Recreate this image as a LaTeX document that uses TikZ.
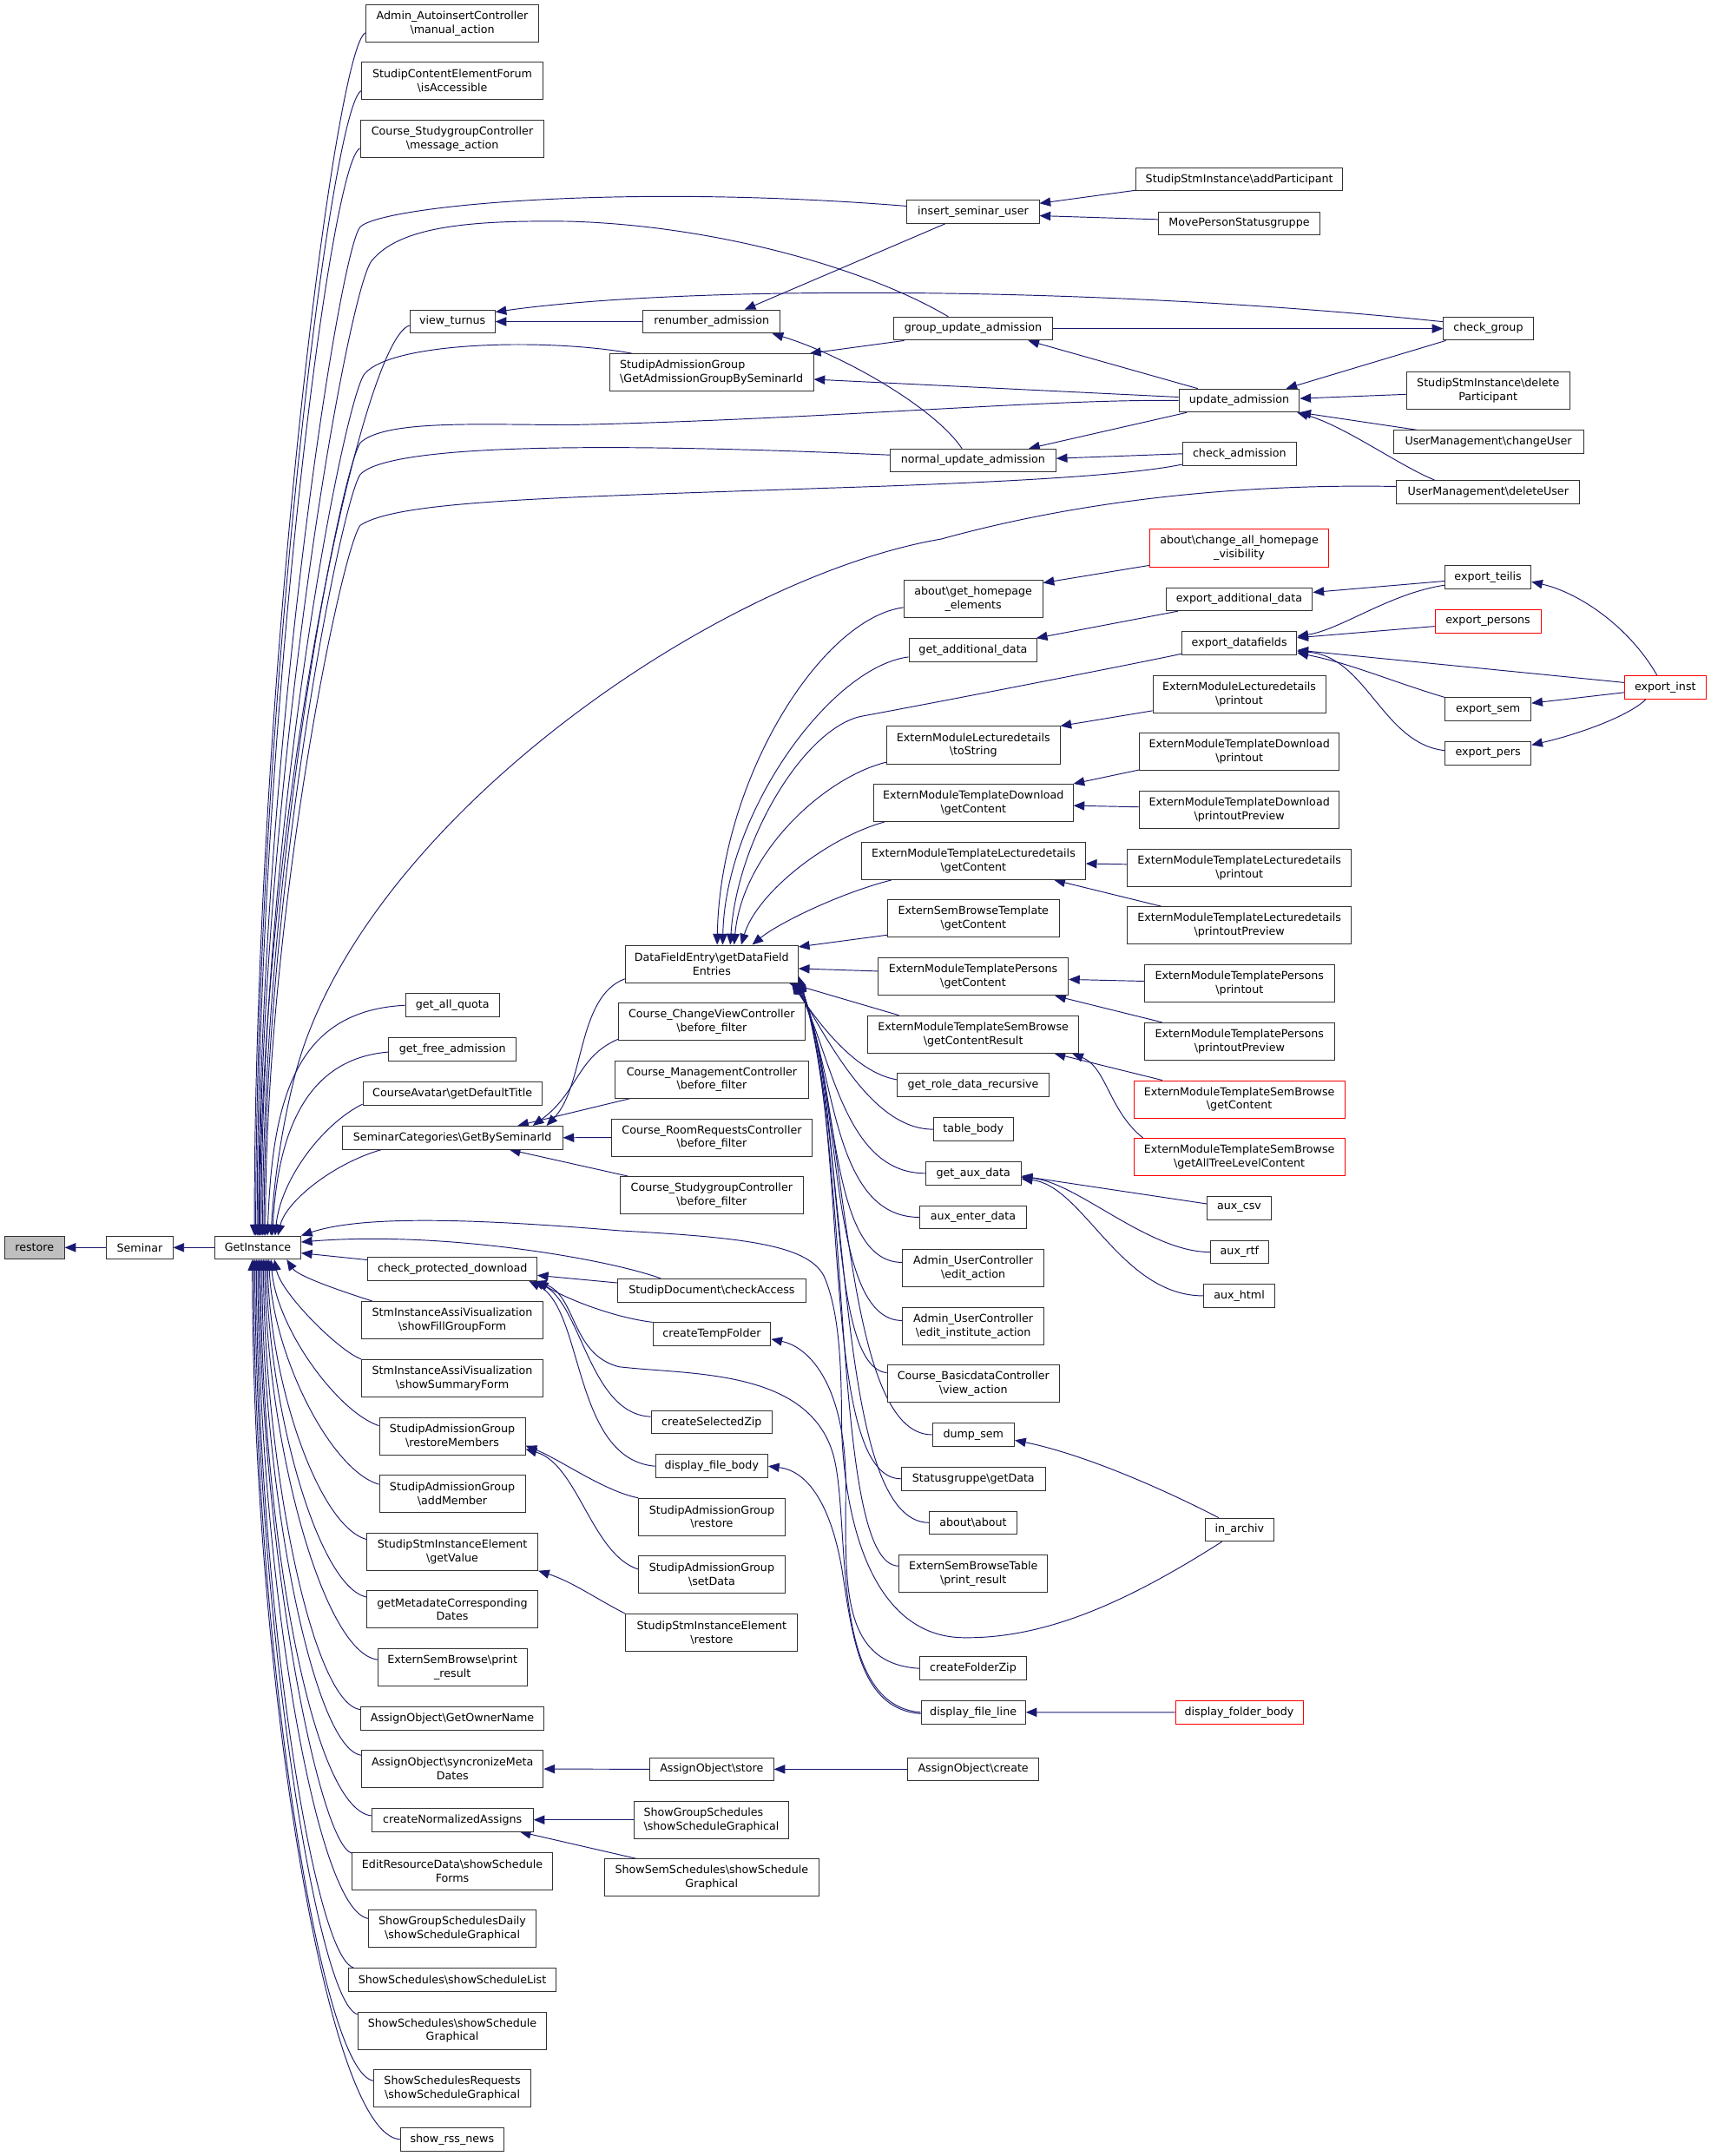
\documentclass[tikz,border=0pt]{standalone}
\usepackage{fontspec}
\setmainfont{DejaVu Sans}
\usetikzlibrary{arrows.meta}
\pgfdeclarelayer{bg}
\pgfsetlayers{bg,main}
\definecolor{eblue}{HTML}{191970}
\definecolor{rootgray}{HTML}{BFBFBF}
\newcommand{\BS}{\textbackslash}
\begin{document}
\begin{tikzpicture}[x=1pt,y=-1pt,
  nb/.style={draw=black!80, line width=0.6pt, fill=white, inner sep=0pt, align=center, font=\fontsize{8}{10}\selectfont, minimum height=16.8pt},
  nb2/.style={nb, minimum height=27.2pt},
  wd/.style={minimum width=#1pt},
  e/.style={draw=eblue, line width=0.6pt, {Triangle[length=8pt,width=6.5pt]}-}]
\useasboundingbox (0,0) rectangle (1244,1568);

% columns 1-3
\node[nb,wd=43.4,fill=rootgray] (restore) at (25.1,907.3) {restore};
\node[nb,wd=48.1] (seminar) at (101.6,907.3) {Seminar};
\node[nb,wd=62.4] (gi) at (187.5,907.3) {GetInstance};

% column 4
\node[nb2,wd=125.6] (adminai) at (328.9,16.9) {Admin\_AutoinsertController\\\BS manual\_action};
\node[nb2,wd=131.4] (forum) at (328.9,58.9) {StudipContentElementForum\\\BS isAccessible};
\node[nb2,wd=133.6] (sgmsg) at (328.9,100.9) {Course\_StudygroupController\\\BS message\_action};
\node[nb,wd=61.8] (vturnus) at (329,233.9) {view\_turnus};
\node[nb,wd=68.2] (quota) at (329,731.1) {get\_all\_quota};
\node[nb,wd=92.6] (freeadm) at (329,763.1) {get\_free\_admission};
\node[nb,wd=130.2] (avatar) at (329,795.3) {CourseAvatar\BS getDefaultTitle};
\node[nb,wd=160.2] (semcat) at (329,827.4) {SeminarCategories\BS GetBySeminarId};
\node[nb,wd=122.8] (cpd) at (329,923) {check\_protected\_download};
\node[nb2,wd=132] (sfg) at (328.9,960.1) {StmInstanceAssiVisualization\\\BS showFillGroupForm};
\node[nb2,wd=132] (ssf) at (328.9,1002.3) {StmInstanceAssiVisualization\\\BS showSummaryForm};
\node[nb2,wd=106.1] (rmem) at (328.9,1044.4) {StudipAdmissionGroup\\\BS restoreMembers};
\node[nb2,wd=106.1] (addm) at (328.9,1086.5) {StudipAdmissionGroup\\\BS addMember};
\node[nb2,wd=124.5] (gval) at (328.9,1128.5) {StudipStmInstanceElement\\\BS getValue};
\node[nb2,wd=124.5] (gmeta) at (328.9,1170.5) {getMetadateCorresponding\\Dates};
\node[nb2,wd=108.4] (esbpr) at (329,1212.5) {ExternSemBrowse\BS print\\\_result};
\node[nb,wd=133.5] (gowner) at (328.9,1249.7) {AssignObject\BS GetOwnerName};
\node[nb2,wd=132.2] (sync) at (329,1286.5) {AssignObject\BS syncronizeMeta\\Dates};
\node[nb,wd=117.4] (cna) at (329,1323.5) {createNormalizedAssigns};
\node[nb2,wd=145.7] (ersf) at (328.9,1360.7) {EditResourceData\BS showSchedule\\Forms};
\node[nb2,wd=121.4] (sgsd) at (328.9,1402.8) {ShowGroupSchedulesDaily\\\BS showScheduleGraphical};
\node[nb,wd=151] (sslist) at (328.9,1439.7) {ShowSchedules\BS showScheduleList};
\node[nb2,wd=137.3] (ssgraph) at (328.9,1476.8) {ShowSchedules\BS showSchedule\\Graphical};
\node[nb2,wd=114] (ssreq) at (328.9,1518.8) {ShowSchedulesRequests\\\BS showScheduleGraphical};
\node[nb,wd=75.1] (rss) at (328.8,1555.9) {show\_rss\_news};

% column 5
\node[nb,wd=99.7] (renum) at (517.4,233.9) {renumber\_admission};
\node[nb2,wd=148.3,align=left] (gagbs) at (517.4,270.9) {StudipAdmissionGroup\\\BS GetAdmissionGroupBySeminarId};
\node[nb2,wd=125.7] (dfe) at (517.5,701) {DataFieldEntry\BS getDataField\\Entries};
\node[nb2,wd=135.7] (cvc) at (517.5,742.9) {Course\_ChangeViewController\\\BS before\_filter};
\node[nb2,wd=140.2] (cmc) at (517.6,785.1) {Course\_ManagementController\\\BS before\_filter};
\node[nb2,wd=145.5] (crr) at (517.6,827.3) {Course\_RoomRequestsController\\\BS before\_filter};
\node[nb2,wd=133.1] (csg) at (517.5,869.3) {Course\_StudygroupController\\\BS before\_filter};
\node[nb,wd=136.5] (sdca) at (517.6,938.5) {StudipDocument\BS checkAccess};
\node[nb,wd=85.7] (ctf) at (517.6,970.3) {createTempFolder};
\node[nb,wd=88.1] (csz) at (517.5,1034.3) {createSelectedZip};
\node[nb,wd=81.7] (dfb) at (517.5,1066.3) {display\_file\_body};
\node[nb2,wd=106.3] (sagr) at (517.6,1103.3) {StudipAdmissionGroup\\\BS restore};
\node[nb2,wd=106.3] (sagsd) at (517.6,1145.3) {StudipAdmissionGroup\\\BS setData};
\node[nb2,wd=125.1] (sier) at (517.5,1187.4) {StudipStmInstanceElement\\\BS restore};
\node[nb,wd=90.1] (aostore) at (517.5,1286.7) {AssignObject\BS store};
\node[nb2,wd=112.2,align=left] (sgs) at (517.3,1323.5) {ShowGroupSchedules\\\BS showScheduleGraphical};
\node[nb2,wd=155.7] (sss) at (517.5,1365.5) {ShowSemSchedules\BS showSchedule\\Graphical};

% column 6
\node[nb,wd=96] (isu) at (707.6,153.9) {insert\_seminar\_user};
\node[nb,wd=115.6] (gua) at (707.6,239) {group\_update\_admission};
\node[nb,wd=120.6] (nua) at (707.5,334.9) {normal\_update\_admission};
\node[nb2,wd=101] (ghe) at (707.7,435.8) {about\BS get\_homepage\\\_elements};
\node[nb,wd=93.4] (gad) at (707.6,472.8) {get\_additional\_data};
\node[nb2,wd=125.9] (emlts) at (707.8,541.9) {ExternModuleLecturedetails\\\BS toString};
\node[nb2,wd=144.9] (emtdgc) at (707.8,583.9) {ExternModuleTemplateDownload\\\BS getContent};
\node[nb2,wd=162.7] (emtlgc) at (707.9,626.1) {ExternModuleTemplateLecturedetails\\\BS getContent};
\node[nb2,wd=124.9] (esbtgc) at (707.8,668.1) {ExternSemBrowseTemplate\\\BS getContent};
\node[nb2,wd=138.4] (emtpgc) at (707.6,710.3) {ExternModuleTemplatePersons\\\BS getContent};
\node[nb2,wd=153.4] (emtsbr) at (707.7,752.3) {ExternModuleTemplateSemBrowse\\\BS getContentResult};
\node[nb,wd=110.2] (grdr) at (707.6,789.2) {get\_role\_data\_recursive};
\node[nb,wd=58.1] (tbody) at (707.8,821.3) {table\_body};
\node[nb,wd=69.3] (gaux) at (707.8,853.3) {get\_aux\_data};
\node[nb,wd=77.4] (auxe) at (707.6,885.3) {aux\_enter\_data};
\node[nb2,wd=102.6] (auea) at (707.7,922.1) {Admin\_UserController\\\BS edit\_action};
\node[nb2,wd=102.6] (aueia) at (707.7,964.4) {Admin\_UserController\\\BS edit\_institute\_action};
\node[nb2,wd=125.3] (cbdc) at (707.8,1006.4) {Course\_BasicdataController\\\BS view\_action};
\node[nb,wd=59.7] (dsem) at (707.8,1043.4) {dump\_sem};
\node[nb,wd=104.7] (sggd) at (707.8,1075.5) {Statusgruppe\BS getData};
\node[nb,wd=63.2] (aabout) at (707.6,1107.4) {about\BS about};
\node[nb2,wd=107.9] (esbtpr) at (707.8,1144.5) {ExternSemBrowseTable\\\BS print\_result};
\node[nb,wd=77.4] (cfz) at (707.6,1213.4) {createFolderZip};
\node[nb,wd=75.9] (dfl) at (707.7,1245.3) {display\_file\_line};
\node[nb,wd=95.2] (aocreate) at (707.7,1286.7) {AssignObject\BS create};

% column 7
\node[nb,wd=150.3] (addp) at (901.2,130.4) {StudipStmInstance\BS addParticipant};
\node[nb,wd=117.6] (mpsg) at (901.1,162.6) {MovePersonStatusgruppe};
\node[nb,wd=87.6] (upd) at (901.1,291.3) {update\_admission};
\node[nb,wd=82.5] (chkadm) at (901.3,330) {check\_admission};
\node[nb2,wd=130.4,draw=red] (cahv) at (901.1,398.6) {about\BS change\_all\_homepage\\\_visibility};
\node[nb,wd=106.6] (ead) at (901.1,435.8) {export\_additional\_data};
\node[nb,wd=83.6] (edf) at (901.2,467.8) {export\_datafields};
\node[nb2,wd=125.6] (emlpr) at (901.1,504.9) {ExternModuleLecturedetails\\\BS printout};
\node[nb2,wd=145.1] (emtdpr) at (901.2,546.9) {ExternModuleTemplateDownload\\\BS printout};
\node[nb2,wd=145.1] (emtdpp) at (901.2,588.9) {ExternModuleTemplateDownload\\\BS printoutPreview};
\node[nb2,wd=162.5] (emtlpr) at (901.2,631.1) {ExternModuleTemplateLecturedetails\\\BS printout};
\node[nb2,wd=162.5] (emtlpp) at (901.2,673.1) {ExternModuleTemplateLecturedetails\\\BS printoutPreview};
\node[nb2,wd=138] (emtppr) at (901.3,715.1) {ExternModuleTemplatePersons\\\BS printout};
\node[nb2,wd=138] (emtppp) at (901.3,757.4) {ExternModuleTemplatePersons\\\BS printoutPreview};
\node[nb2,wd=153.5,draw=red] (emtsbgc) at (901.2,799.5) {ExternModuleTemplateSemBrowse\\\BS getContent};
\node[nb2,wd=153.5,draw=red] (emtsbat) at (901.2,841.5) {ExternModuleTemplateSemBrowse\\\BS getAllTreeLevelContent};
\node[nb,wd=46.8] (auxcsv) at (901.1,878.5) {aux\_csv};
\node[nb,wd=42.3] (auxrtf) at (901.3,910.6) {aux\_rtf};
\node[nb,wd=51.6] (auxhtml) at (901.1,942.4) {aux\_html};
\node[nb,wd=49.7] (inarch) at (901.3,1112.5) {in\_archiv};
\node[nb,wd=92.8,draw=red] (dfoldb) at (901.1,1245.4) {display\_folder\_body};

% column 8-9
\node[nb,wd=65.1] (chkgrp) at (1082.2,239) {check\_group};
\node[nb2,wd=119] (delp) at (1082.1,284.3) {StudipStmInstance\BS delete\\Participant};
\node[nb,wd=138.3] (chgu) at (1082.3,321.3) {UserManagement\BS changeUser};
\node[nb,wd=133.3] (delu) at (1082.1,357.8) {UserManagement\BS deleteUser};
\node[nb,wd=62.7] (teilis) at (1082,419.9) {export\_teilis};
\node[nb,wd=77,draw=red] (epersons) at (1082,451.8) {export\_persons};
\node[nb,wd=62.7] (esem) at (1082,515.8) {export\_sem};
\node[nb,wd=62.7] (epers) at (1082,547.8) {export\_pers};
\node[nb,wd=59.2,draw=red] (einst) at (1210.9,499.8) {export\_inst};

\begin{pgfonlayer}{bg}
\fill[white] (0,0) rectangle (1244,1568);
% chain
\draw[e] (restore.east) -- (seminar.west);
\draw[e] (seminar.east) -- (gi.west);

% upper fan into GetInstance
\draw[e] ([xshift=-2.5pt]gi.north) .. controls +(0,-397) and +(-22,8) .. ([yshift=-7pt]adminai.west);
\draw[e] ([xshift=-1.5pt]gi.north) .. controls +(0,-375) and +(-22,8) .. ([yshift=-7pt]forum.west);
\draw[e] ([xshift=-0.5pt]gi.north) .. controls +(0,-356) and +(-22,8) .. ([yshift=-7pt]sgmsg.west);
\draw[e] ([xshift=1.5pt]gi.north) .. controls +(0,-298) and +(-35,10) .. ([yshift=-2.8pt]vturnus.west);
\draw[e] ([xshift=0.5pt]gi.north) .. controls +(0,-340) and (247,180) .. (262,165) .. controls (277,150) and (450,133) .. ([yshift=4pt]isu.west);
\draw[e] ([xshift=1pt]gi.north) .. controls +(0,-320) and (252,215) .. (270,190) .. controls (290,165) and (340,160) .. (414,161) .. controls (520,164) and (630,195) .. ([xshift=-18pt]gua.north);
\draw[e] ([xshift=2.5pt]gi.north) .. controls +(0,-300) and (250,292) .. (265,272) .. controls (285,248) and (400,246) .. ([xshift=16.4pt]gagbs.north west);
\draw[e] ([xshift=3.5pt]gi.north) .. controls +(0,-260) and (247,345) .. (262,322) .. controls (280,305) and (350,309) .. (415,309) .. controls (600,305) and (760,290) .. (upd.west);
\draw[e] ([xshift=4.5pt]gi.north) .. controls +(0,-250) and (248,365) .. (262,345) .. controls (280,326) and (400,320) .. ([yshift=4pt]nua.west);
\draw[e] ([xshift=5.5pt]gi.north) .. controls +(0,-230) and (248,400) .. (262,382) .. controls (290,364) and (400,362) .. (600,355) .. controls (760,350) and (830,344) .. ([yshift=1pt]chkadm.south west);
\draw[e] ([xshift=9.5pt]gi.north) .. controls (199,860) and (205,820) .. (214,784) .. controls (260,600) and (520,420) .. (684.5,392) .. controls (800,360) and (920,352) .. ([yshift=4pt]delu.west);
\draw[e] ([xshift=7pt]gi.north) .. controls +(3.5,-99) and +(-80,4) .. (quota.west);
\draw[e] ([xshift=10.5pt]gi.north) .. controls +(4,-75) and +(-60,5) .. ([yshift=-2pt]freeadm.west);
\draw[e] ([xshift=12.5pt]gi.north) .. controls +(4,-40) and +(-30,15) .. ([yshift=1pt]avatar.south west);
\draw[e] ([xshift=14.5pt]gi.north) .. controls +(6,-25) and +(-35,10) .. ([xshift=28.8pt]semcat.south west);

% lower fan into GetInstance
\draw[e] ([xshift=21pt]gi.south) .. controls +(8,12) and +(-25,-8) .. ([xshift=8pt]sfg.north west);
\draw[e] ([xshift=12pt]gi.south) .. controls +(5,25) and +(-15,-5) .. (ssf.north west);
\draw[e] ([xshift=9.5pt]gi.south) .. controls +(4,50) and +(-30,-10) .. ([yshift=7.5pt]rmem.west);
\draw[e] ([xshift=8pt]gi.south) .. controls +(3,70) and +(-35,-10) .. ([yshift=7pt]addm.west);
\draw[e] ([xshift=7pt]gi.south) .. controls +(2,90) and +(-35,-10) .. ([yshift=9pt]gval.west);
\draw[e] ([xshift=6pt]gi.south) .. controls +(2,110) and +(-35,-8) .. ([yshift=9pt]gmeta.west);
\draw[e] ([xshift=5pt]gi.south) .. controls +(1,130) and +(-40,-5) .. ([yshift=5.5pt]esbpr.west);
\draw[e] ([xshift=4pt]gi.south) .. controls +(1,150) and +(-35,-5) .. ([yshift=6.4pt]gowner.west);
\draw[e] ([xshift=3pt]gi.south) .. controls +(0,165) and +(-35,-5) .. ([yshift=10pt]sync.west);
\draw[e] ([xshift=2pt]gi.south) .. controls +(0,185) and +(-45,-5) .. ([yshift=3pt]cna.west);
\draw[e] ([xshift=1pt]gi.south) .. controls +(0,200) and +(-25,-8) .. ([yshift=-1pt]ersf.north west);
\draw[e] (gi.south) .. controls +(0,215) and +(-40,-6) .. ([yshift=7.5pt]sgsd.west);
\draw[e] ([xshift=-1pt]gi.south) .. controls +(0,235) and +(-30,-8) .. ([xshift=4pt]sslist.north west);
\draw[e] ([xshift=-2pt]gi.south) .. controls +(0,250) and +(-30,-8) .. ([yshift=-2pt]ssgraph.north west);
\draw[e] ([xshift=-3pt]gi.south) .. controls +(0,270) and +(-40,-6) .. ([yshift=5.5pt]ssreq.west);
\draw[e] ([xshift=-4pt]gi.south) .. controls +(0,290) and +(-55,-3) .. (rss.west);

% right side of GetInstance
\draw[e] (gi.north east) .. controls (260,885) and (330,885) .. (450,895) .. controls (540,900) and (590,905) .. (600,930) .. controls (610,955) and (612,990) .. (612,1040) .. controls (615,1120) and (640,1190) .. (700,1191) .. controls (760,1192) and (820,1165) .. ([xshift=12.4pt]inarch.south west);
\draw[e] ([yshift=4pt]gi.east) .. controls (320,895) and (440,915) .. ([xshift=31.5pt]sdca.north west);
\draw[e] ([yshift=-4pt]gi.east) -- ([yshift=-2pt]cpd.north west);

% admission cluster
\draw[e] ([yshift=7pt]vturnus.east) .. controls (500,207) and (800,208) .. ([yshift=5pt]chkgrp.west);
\draw[e] (vturnus.east) -- (renum.west);
\draw[e] ([xshift=24pt]renum.north) -- ([xshift=-20pt]isu.south);
\draw[e] ([yshift=6pt]isu.east) -- ([yshift=-8pt]addp.west);
\draw[e] ([yshift=-3pt]isu.east) -- ([yshift=3pt]mpsg.west);
\draw[e] ([xshift=-6pt]renum.south east) .. controls +(50,15) and +(-20,-30) .. ([xshift=-8pt]nua.north);
\draw[e] ([xshift=-3pt]gagbs.north east) -- ([xshift=8pt]gua.south west);
\draw[e] ([yshift=-5pt]gagbs.east) -- ([yshift=2.5pt]upd.west);
\draw[e] ([xshift=40pt]gua.south) -- ([xshift=14pt]upd.north west);
\draw[e] (chkgrp.west) -- (gua.east);
\draw[e] ([xshift=-10pt]upd.north east) -- ([xshift=2pt]chkgrp.south west);
\draw[e] ([xshift=-20pt]nua.north east) -- ([xshift=6pt]upd.south west);
\draw[e] ([yshift=1.5pt]nua.east) -- (chkadm.west);
\draw[e] ([yshift=1.5pt]upd.east) -- ([yshift=-2.5pt]delp.west);
\draw[e] (upd.south east) -- ([xshift=17pt]chgu.north west);
\draw[e] ([xshift=-2pt]upd.south east) .. controls +(35,10) and +(-25,-10) .. ([xshift=28pt]delu.north west);

% DataFieldEntry top fan
\draw[e] ([xshift=4pt]dfe.north) .. controls +(2,-120) and +(-60,8) .. ([yshift=-6pt]ghe.west);
\draw[e] ([xshift=8pt]dfe.north) .. controls +(2,-97) and +(-56,7) .. ([yshift=-5pt]gad.west);
\draw[e] ([xshift=13.5pt]dfe.north) .. controls +(5,-77) and (585,530) .. (626,521) .. controls (696,508) and (829,482) .. ([yshift=1pt]edf.south west);
\draw[e] ([xshift=16.3pt]dfe.north) .. controls +(6,-67) and +(-45,11) .. ([yshift=1.5pt]emlts.south west);
\draw[e] ([xshift=21.5pt]dfe.north) .. controls +(11,-37) and +(-43,12) .. ([xshift=8pt]emtdgc.south west);
\draw[e] ([xshift=29.5pt]dfe.north) .. controls +(18,-15) and +(-39,10) .. ([xshift=22pt]emtlgc.south west);
\draw[e] ([yshift=-1.5pt]dfe.north east) -- ([yshift=2pt]esbtgc.south west);
\draw[e] ([yshift=-3.4pt]dfe.east) -- ([yshift=4pt]emtpgc.west);
\draw[e] ([xshift=-7pt]dfe.south east) -- ([xshift=23pt]emtsbr.north west);

% DataFieldEntry bottom bundle
\draw[e] ([xshift=-5pt]dfe.south east) .. controls +(20,30) and +(-30,-5) .. ([yshift=4pt]grdr.west);
\draw[e] ([xshift=-4pt]dfe.south east) .. controls +(25,40) and +(-45,0) .. (tbody.west);
\draw[e] ([xshift=-3pt]dfe.south east) .. controls +(27,50) and +(-60,0) .. (gaux.west);
\draw[e] ([xshift=-2pt]dfe.south east) .. controls +(29,60) and +(-65,0) .. (auxe.west);
\draw[e] ([xshift=-1pt]dfe.south east) .. controls +(31,70) and +(-55,0) .. ([yshift=4pt]auea.west);
\draw[e] (dfe.south east) .. controls +(33,80) and +(-55,0) .. ([yshift=4pt]aueia.west);
\draw[e] ([yshift=1pt]dfe.south east) .. controls +(35,90) and +(-45,-5) .. ([yshift=8pt]cbdc.west);
\draw[e] ([yshift=2pt]dfe.south east) .. controls +(37,100) and +(-65,0) .. (dsem.west);
\draw[e] ([yshift=3pt]dfe.south east) .. controls +(38,110) and +(-60,0) .. (sggd.west);
\draw[e] ([yshift=4pt]dfe.south east) .. controls +(39,120) and +(-70,0) .. (aabout.west);
\draw[e] ([yshift=5pt]dfe.south east) .. controls +(40,130) and +(-50,0) .. ([yshift=5.6pt]esbtpr.west);

% SeminarCategories
\draw[e] ([xshift=-12pt]semcat.north east) .. controls +(28,-29) and +(-35,13) .. ([yshift=3pt]dfe.south west);
\draw[e] ([xshift=-22pt]semcat.north east) .. controls +(33,-24) and +(-30,13) .. ([yshift=1pt]cvc.south west);
\draw[e] ([xshift=-33pt]semcat.north east) -- ([xshift=14.8pt,yshift=1pt]cmc.south west);
\draw[e] (semcat.east) -- (crr.west);
\draw[e] ([xshift=-39pt]semcat.south east) -- ([xshift=6pt]csg.north west);

% column 4 - 5 links
\draw[e] ([yshift=-7pt]rmem.east) .. controls +(25,10) and +(-25,-5) .. (sagr.north west);
\draw[e] ([yshift=-9.5pt]rmem.east) .. controls +(38,11) and +(-34,-11) .. ([yshift=4pt]sagsd.west);
\draw[e] (gval.south east) .. controls +(25,8) and +(-20,-10) .. (sier.north west);
\draw[e] (sync.east) -- (aostore.west);
\draw[e] (cna.east) -- (sgs.west);
\draw[e] ([xshift=-10pt]cna.south east) -- ([xshift=23pt]sss.north west);
\draw[e] (aostore.east) -- (aocreate.west);
\draw[e] (dfl.east) -- (dfoldb.west);

% check_protected_download
\draw[e] ([yshift=-4.5pt]cpd.east) -- ([yshift=5.5pt]sdca.west);
\draw[e] (cpd.south east) .. controls +(25,15) and +(-25,-3) .. (ctf.north west);
\draw[e] ([xshift=-3pt]cpd.south east) .. controls +(35,15) and +(-45,-2) .. ([yshift=4pt]csz.west);
\draw[e] ([xshift=-6pt]cpd.south east) .. controls +(40,20) and +(-60,-5) .. (dfb.west);
\draw[e] ([xshift=-1.5pt]cpd.south east) .. controls +(30,10) and (415,985) .. (450,994) .. controls (500,1000) and (585,995) .. (605,1055) .. controls (620,1100) and (600,1240) .. (dfl.west);
\draw[e] ([yshift=-3.6pt]ctf.east) .. controls (590,980) and (615,1010) .. (615,1080) .. controls (615,1150) and (610,1210) .. (cfz.west);
\draw[e] (dfb.east) .. controls (590,1070) and (605,1100) .. (612,1140) .. controls (620,1190) and (625,1243) .. ([yshift=-1pt]dfl.west);
\draw[e] ([yshift=-4pt]dsem.east) .. controls (790,1058) and (850,1085) .. ([xshift=10pt]inarch.north west);

% aux
\draw[e] ([yshift=-2pt]gaux.east) -- ([yshift=3pt]auxcsv.west);
\draw[e] ([yshift=-3pt]gaux.east) .. controls +(40,3) and +(-45,0) .. (auxrtf.west);
\draw[e] ([yshift=-4pt]gaux.east) .. controls +(45,5) and +(-60,0) .. (auxhtml.west);

% SemBrowse
\draw[e] ([xshift=-18pt]emtsbr.south east) -- ([xshift=21pt]emtsbgc.north west);
\draw[e] ([xshift=-5pt]emtsbr.south east) .. controls +(25,10) and +(-25,-20) .. ([xshift=7pt]emtsbat.north west);

% printouts
\draw[e] (emlts.north east) -- ([yshift=-12pt]emlpr.west);
\draw[e] (emtdgc.north east) -- ([yshift=-13pt]emtdpr.west);
\draw[e] ([yshift=-2pt]emtdgc.east) -- ([yshift=2pt]emtdpp.west);
\draw[e] ([yshift=-2pt]emtlgc.east) -- ([yshift=2.5pt]emtlpr.west);
\draw[e] ([xshift=-23pt]emtlgc.south east) -- ([xshift=25pt]emtlpp.north west);
\draw[e] ([yshift=-2pt]emtpgc.east) -- ([yshift=1.5pt]emtppr.west);
\draw[e] ([xshift=-10pt]emtpgc.south east) -- ([xshift=13pt]emtppp.north west);

% export cluster
\draw[e] ([yshift=-2pt]ghe.north east) -- ([yshift=1.3pt]cahv.south west);
\draw[e] ([xshift=-1pt]gad.north east) -- ([xshift=9pt]ead.south west);
\draw[e] ([yshift=5pt]ead.east) -- ([yshift=-2.7pt]teilis.west);
\draw[e] ([yshift=5pt]edf.east) .. controls +(32,-5) and +(-40,6) .. ([yshift=-5.7pt]teilis.west);
\draw[e] ([yshift=4pt]edf.east) -- ([yshift=-3.7pt]epersons.west);
\draw[e] ([yshift=-5pt]edf.east) -- ([yshift=3.4pt]einst.west);
\draw[e] ([yshift=-7pt]edf.east) .. controls +(40,8) and +(-40,-12) .. (esem.north west);
\draw[e] ([yshift=-6pt]edf.east) .. controls +(50,3) and +(-45,-5) .. ([yshift=2pt]epers.west);
\draw[e] ([yshift=-3.2pt]teilis.east) .. controls +(35,8) and +(-20,-35) .. ([xshift=-6pt]einst.north);
\draw[e] ([yshift=4.4pt]esem.east) -- ([yshift=-3.8pt]einst.west);
\draw[e] ([yshift=6pt]epers.east) .. controls +(35,-8) and +(-12,12) .. ([xshift=-14pt]einst.south);
\end{pgfonlayer}
\end{tikzpicture}
\end{document}
